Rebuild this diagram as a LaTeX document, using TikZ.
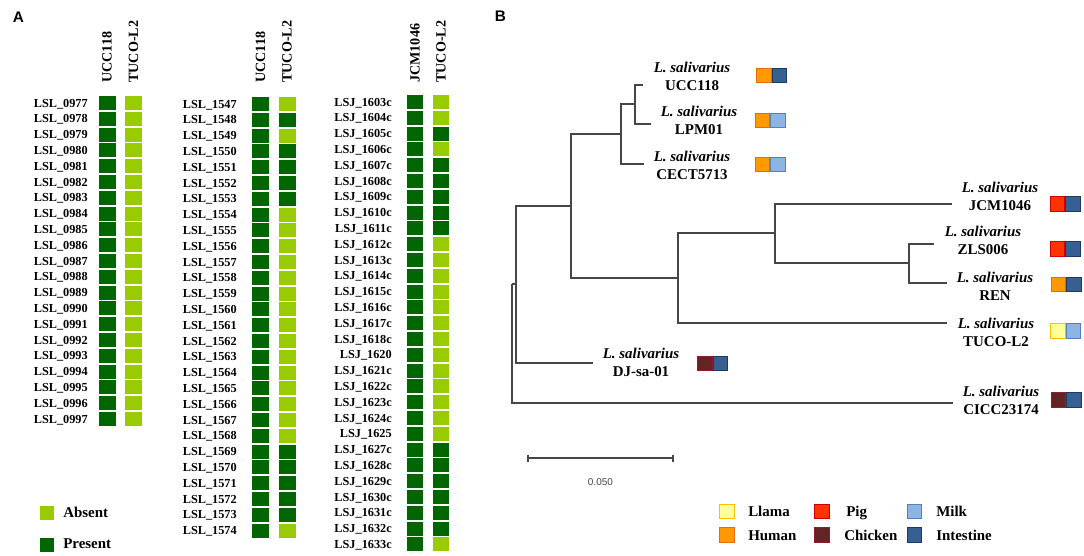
\documentclass[tikz,border=0pt]{standalone}
\usepackage{fontspec}
\setmainfont{Liberation Serif}
\newfontfamily\sansf{Liberation Sans}
\definecolor{presG}{RGB}{0,102,0}
\definecolor{absG}{RGB}{153,204,0}
\definecolor{branchC}{RGB}{70,70,70}
\definecolor{llamaF}{RGB}{255,255,153}\definecolor{llamaB}{RGB}{255,192,0}
\definecolor{humanF}{RGB}{255,153,0}\definecolor{humanB}{RGB}{228,108,10}
\definecolor{pigF}{RGB}{255,51,0}\definecolor{pigB}{RGB}{204,0,0}
\definecolor{chickF}{RGB}{99,37,35}\definecolor{chickB}{RGB}{140,30,45}
\definecolor{milkF}{RGB}{141,180,226}\definecolor{milkB}{RGB}{79,129,189}
\definecolor{intF}{RGB}{54,96,146}\definecolor{intB}{RGB}{31,56,100}
\tikzset{
  rowlab/.style={anchor=base east, inner sep=0pt, font=\fontsize{9.2}{10}\selectfont\bfseries},
  colhead/.style={rotate=90, anchor=west, inner sep=0pt, font=\fontsize{10.6}{12}\selectfont\bfseries},
  cell/.style={inner sep=0pt, minimum width=12.75pt, minimum height=10.5pt},
  cellS/.style={inner sep=0pt, minimum width=12pt, minimum height=10.5pt},
  panel/.style={inner sep=0pt, font=\sansf\fontsize{11.5}{12}\selectfont\bfseries},
  branch/.style={draw=branchC, line width=1pt},
  leaflab/.style={align=center, inner sep=0pt, font=\fontsize{11.2}{13.5}\selectfont\bfseries},
  src/.style={inner sep=0pt, minimum width=10.9pt, minimum height=10.6pt, line width=0.7pt},
  llama/.style={fill=llamaF, draw=llamaB},
  human/.style={fill=humanF, draw=humanB},
  pig/.style={fill=pigF, draw=pigB},
  chick/.style={fill=chickF, draw=chickB},
  milk/.style={fill=milkF, draw=milkB},
  intest/.style={fill=intF, draw=intB},
  legtxt/.style={anchor=base west, inner sep=0pt, font=\fontsize{11.2}{12}\selectfont\bfseries},
}
\newcommand\srcpair[5]{%
  \node[src,#4,anchor=east] (#1l) at (#2,#3) {};
  \node[src,#5,anchor=west] (#1r) at (#2,#3) {};}
\begin{document}
\begin{tikzpicture}[x=0.75pt,y=-0.75pt]
\useasboundingbox (0,0) rectangle (1084,556);
% ---------------- Panel A ----------------
\node[panel] (labA) at (18.5,17) {A};
\node[colhead] (h1a) at (107,83) {UCC118};
\node[colhead] (h1b) at (133.5,83) {TUCO-L2};
\node[colhead] (h2a) at (260.5,83) {UCC118};
\node[colhead] (h2b) at (287,83) {TUCO-L2};
\node[colhead] (h3a) at (415,83) {JCM1046};
\node[colhead] (h3b) at (441,83) {TUCO-L2};
% column 1
\foreach \lab [count=\i from 0] in {0977,0978,0979,0980,0981,0982,0983,0984,0985,0986,0987,0988,0989,0990,0991,0992,0993,0994,0995,0996,0997}{
  \pgfmathsetmacro\yy{103+15.8*\i}
  \node[rowlab] (la\i) at (88,\yy+4.1) {LSL\_\lab};
  \node[cell, fill=presG] (pa\i) at (107,\yy) {};
  \node[cell, fill=absG] (ta\i) at (133.5,\yy) {};
}
% column 2
\foreach \lab/\st [count=\i from 0] in {1547/absG,1548/presG,1549/absG,1550/presG,1551/presG,1552/presG,1553/presG,1554/absG,1555/absG,1556/absG,1557/absG,1558/absG,1559/absG,1560/absG,1561/absG,1562/absG,1563/absG,1564/absG,1565/absG,1566/absG,1567/absG,1568/absG,1569/presG,1570/presG,1571/presG,1572/presG,1573/presG,1574/absG}{
  \pgfmathsetmacro\yy{104+15.8*\i}
  \node[rowlab] (lb\i) at (237,\yy+4.1) {LSL\_\lab};
  \node[cell, fill=presG] (pb\i) at (260.5,\yy) {};
  \node[cell, fill=\st] (tb\i) at (287,\yy) {};
}
% column 3
\foreach \lab/\st [count=\i from 0] in {1603c/absG,1604c/absG,1605c/presG,1606c/absG,1607c/presG,1608c/presG,1609c/presG,1610c/presG,1611c/presG,1612c/absG,1613c/absG,1614c/absG,1615c/absG,1616c/absG,1617c/absG,1618c/absG,1620/absG,1621c/absG,1622c/absG,1623c/absG,1624c/absG,1625/absG,1627c/presG,1628c/presG,1629c/presG,1630c/presG,1631c/presG,1632c/presG,1633c/absG}{
  \pgfmathsetmacro\yy{102+15.8*\i}
  \node[rowlab] (lc\i) at (392,\yy+4.1) {LSJ\_\lab};
  \node[cellS, fill=presG] (pc\i) at (415,\yy) {};
  \node[cellS, fill=\st] (tc\i) at (441,\yy) {};
}
% legend A
\node[inner sep=0pt, minimum size=10.5pt, fill=absG] (legAbs) at (47,513) {};
\node[legtxt] (legAbsT) at (63,517.3) {Absent};
\node[inner sep=0pt, minimum size=10.5pt, fill=presG] (legPres) at (47,544.5) {};
\node[legtxt] (legPresT) at (63,548.3) {Present};
% ---------------- Panel B ----------------
\node[panel] (labB) at (500.5,16) {B};
\coordinate (R) at (512,284);
\coordinate (nA) at (516,284);
\coordinate (nB) at (571,206);
\coordinate (nC) at (621,134);
\coordinate (nE) at (635,104);
\coordinate (nD) at (678,278);
\coordinate (nF) at (775,233);
\coordinate (nG) at (909,263);
\coordinate (eUCC) at (643,85);
\coordinate (eLPM) at (651,124);
\coordinate (eCECT) at (644,164);
\coordinate (eDJ) at (593,363);
\coordinate (eJCM) at (952,204);
\coordinate (eZLS) at (934,244);
\coordinate (eREN) at (947,283);
\coordinate (eTUCO) at (947,323);
\coordinate (eCICC) at (953,403);
\draw[branch] (R) -- (nA);
\draw[branch] (R) |- (eCICC);
\draw[branch] (nA) |- (nB);
\draw[branch] (nA) |- (eDJ);
\draw[branch] (nB) |- (nC);
\draw[branch] (nB) |- (nD);
\draw[branch] (nC) |- (nE);
\draw[branch] (nC) |- (eCECT);
\draw[branch] (nE) |- (eUCC);
\draw[branch] (nE) |- (eLPM);
\draw[branch] (nD) |- (nF);
\draw[branch] (nD) |- (eTUCO);
\draw[branch] (nF) |- (eJCM);
\draw[branch] (nF) |- (nG);
\draw[branch] (nG) |- (eZLS);
\draw[branch] (nG) |- (eREN);
% leaf labels
\node[leaflab] (tUCC) at (692,76) {\textit{L. salivarius}\\UCC118};
\node[leaflab] (tLPM) at (699,120) {\textit{L. salivarius}\\LPM01};
\node[leaflab] (tCECT) at (692,165) {\textit{L. salivarius}\\CECT5713};
\node[leaflab] (tDJ) at (641,362) {\textit{L. salivarius}\\DJ-sa-01};
\node[leaflab] (tJCM) at (1000,196) {\textit{L. salivarius}\\JCM1046};
\node[leaflab] (tZLS) at (983,240.5) {\textit{L. salivarius}\\ZLS006};
\node[leaflab] (tREN) at (995,286) {\textit{L. salivarius}\\REN};
\node[leaflab] (tTUCO) at (996,332) {\textit{L. salivarius}\\TUCO-L2};
\node[leaflab] (tCICC) at (1001,400.5) {\textit{L. salivarius}\\CICC23174};
% source boxes
\srcpair{sUCC}{771.5}{75.5}{human}{intest}
\srcpair{sLPM}{770}{120.5}{human}{milk}
\srcpair{sCECT}{770}{164.5}{human}{milk}
\srcpair{sDJ}{712.5}{363.5}{chick}{intest}
\srcpair{sJCM}{1065}{204}{pig}{intest}
\srcpair{sZLS}{1065}{249}{pig}{intest}
\srcpair{sREN}{1066}{284.5}{human}{intest}
\srcpair{sTUCO}{1065.5}{331}{llama}{milk}
\srcpair{sCICC}{1066}{400}{chick}{intest}
% scale bar
\coordinate (sbL) at (528,458);
\coordinate (sbR) at (673,458);
\draw[branch] (sbL) -- (sbR);
\draw[branch] (sbL) ++(0,-3.5) -- ++(0,7);
\draw[branch] (sbR) ++(0,-3.5) -- ++(0,7);
\node[inner sep=0pt, text=branchC, font=\sansf\fontsize{7.5}{8}\selectfont] (sbT) at (600.5,482) {0.050};
% legend B
\node[src, llama, minimum size=10.6pt] (kLl) at (727,511.5) {};
\node[legtxt] (kLlT) at (748,516) {Llama};
\node[src, human, minimum size=10.6pt] (kHu) at (727,535) {};
\node[legtxt] (kHuT) at (748,540) {Human};
\node[src, pig, minimum size=10.6pt] (kPi) at (822,511.5) {};
\node[legtxt] (kPiT) at (846,516) {Pig};
\node[src, chick, minimum size=10.6pt] (kCh) at (822,535) {};
\node[legtxt] (kChT) at (844,540) {Chicken};
\node[src, milk, minimum size=10.6pt] (kMi) at (914.5,511.5) {};
\node[legtxt] (kMiT) at (936,516) {Milk};
\node[src, intest, minimum size=10.6pt] (kIn) at (914.5,535) {};
\node[legtxt] (kInT) at (936,540) {Intestine};
\end{tikzpicture}
\end{document}
